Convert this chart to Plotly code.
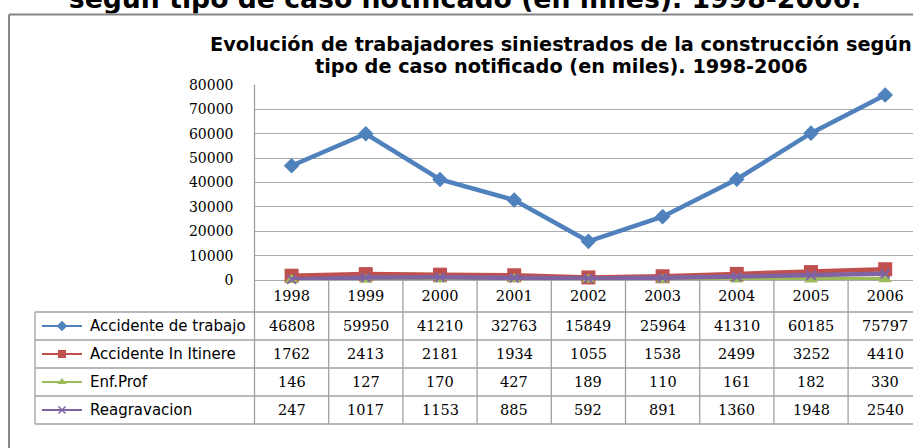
import plotly.graph_objects as go

# ---------------- data ----------------
years = ["1998", "1999", "2000", "2001", "2002", "2003", "2004", "2005", "2006"]
series_names = ["Accidente de trabajo", "Accidente In Itinere", "Enf.Prof", "Reagravacion"]
accidente_trabajo = [46808, 59950, 41210, 32763, 15849, 25964, 41310, 60185, 75797]
accidente_in_itinere = [1762, 2413, 2181, 1934, 1055, 1538, 2499, 3252, 4410]
enf_prof = [146, 127, 170, 427, 189, 110, 161, 182, 330]
reagravacion = [247, 1017, 1153, 885, 592, 891, 1360, 1948, 2540]
y_ticks = [0, 10000, 20000, 30000, 40000, 50000, 60000, 70000, 80000]

top_title = "según tipo de caso notificado (en miles). 1998-2006."
chart_title_1 = "Evolución de trabajadores siniestrados de la construcción según"
chart_title_2 = "tipo de caso notificado (en miles). 1998-2006"

# ---------------- styling ----------------
W, H = 913, 448
colors = ["#4F81BD", "#C0504D", "#9BBB59", "#8064A2"]
symbols = ["diamond", "square", "triangle-up", "x-thin"]
sizes = [12, 14, 12, 9]
leg_sizes = [8, 8, 8, 7]
grid_col = "#aaaaaa"
tbl_col = "#a0a0a0"
SERIF = "DejaVu Serif"
SANS = "DejaVu Sans"

def px(x):
    return x / W

def py(y):
    return 1 - y / H

plot_left = 254.5
y0_pix, ytop_pix = 280.0, 84.8
col_w = 74.2
right_val = 8.5 - (plot_left + 9 * col_w - W) / col_w

row_lines = [312, 340, 368, 396, 424]
row_centers = [326, 354, 382, 410]

all_series = [accidente_trabajo, accidente_in_itinere, enf_prof, reagravacion]

fig = go.Figure()

# main lines
for name, vals, c, s, sz in zip(series_names, all_series, colors, symbols, sizes):
    mk = dict(symbol=s, size=sz, color=c)
    if s == "x-thin":
        mk["line"] = dict(color=c, width=2)
    fig.add_trace(go.Scatter(
        x=years, y=vals, name=name, mode="lines+markers",
        line=dict(color=c, width=4.5), marker=mk, cliponaxis=False,
        xaxis="x", yaxis="y", showlegend=False))

# legend samples inside the table (pixel overlay axes)
for i, (c, s, sz) in enumerate(zip(colors, symbols, leg_sizes)):
    yc = row_centers[i]
    fig.add_trace(go.Scatter(
        x=[42, 82], y=[yc, yc], mode="lines", line=dict(color=c, width=2),
        xaxis="x3", yaxis="y3", showlegend=False, hoverinfo="skip"))
    mk = dict(symbol=s, size=sz, color=c)
    if s == "x-thin":
        mk["line"] = dict(color=c, width=1.5)
    fig.add_trace(go.Scatter(
        x=[62], y=[yc], mode="markers", marker=mk,
        xaxis="x3", yaxis="y3", showlegend=False, hoverinfo="skip"))

# big clipped title behind the chart box
fig.add_trace(go.Scatter(
    x=[465], y=[1.2], mode="text", text=[top_title], textposition="middle center",
    textfont=dict(family=SANS, size=26.7, color="black", weight="bold"),
    xaxis="x3", yaxis="y3", showlegend=False, hoverinfo="skip", cliponaxis=False))

shapes = []
# white box covering lower part of big title
shapes.append(dict(type="rect", xref="paper", yref="paper", x0=0, x1=1,
                   y0=py(28), y1=py(13.5), fillcolor="white", line=dict(width=0), layer="above"))
# chart box border
shapes.append(dict(type="line", xref="paper", yref="paper", x0=px(9), x1=1,
                   y0=py(14.5), y1=py(14.5), line=dict(color="#868686", width=2), layer="above"))
shapes.append(dict(type="line", xref="paper", yref="paper", x0=px(9), x1=px(9),
                   y0=py(14.5), y1=0, line=dict(color="#868686", width=2), layer="above"))
# table horizontal lines
for yl in row_lines:
    shapes.append(dict(type="line", xref="paper", yref="paper", x0=px(35), x1=1,
                       y0=py(yl), y1=py(yl), line=dict(color=tbl_col, width=1.3), layer="above"))
# table left edge
shapes.append(dict(type="line", xref="paper", yref="paper", x0=px(35), x1=px(35),
                   y0=py(312), y1=py(424), line=dict(color=tbl_col, width=1.3), layer="above"))
# plot left edge down through table
shapes.append(dict(type="line", xref="paper", yref="paper", x0=px(plot_left), x1=px(plot_left),
                   y0=py(ytop_pix), y1=py(424), line=dict(color=tbl_col, width=1.3), layer="above"))
# column separators in the header row and table
for k in range(len(years)):
    shapes.append(dict(type="line", xref="x", yref="paper", x0=k + 0.5, x1=k + 0.5,
                       y0=py(y0_pix), y1=py(424), line=dict(color=tbl_col, width=1.3), layer="above"))

annotations = []
annotations.append(dict(text=chart_title_1, x=px(561), y=py(31), xref="paper", yref="paper",
                        xanchor="center", yanchor="top", showarrow=False,
                        font=dict(family=SANS, size=19.3, color="black", weight="bold")))
annotations.append(dict(text=chart_title_2, x=px(561), y=py(53), xref="paper", yref="paper",
                        xanchor="center", yanchor="top", showarrow=False,
                        font=dict(family=SANS, size=19.3, color="black", weight="bold")))
for i, (name, vals) in enumerate(zip(series_names, all_series)):
    yc = row_centers[i]
    annotations.append(dict(text=name, x=px(88), y=py(yc), xref="paper", yref="paper",
                            xanchor="left", yanchor="middle", showarrow=False,
                            font=dict(family=SANS, size=15, color="black")))
    for k, v in enumerate(vals):
        annotations.append(dict(text=str(v), x=k, y=py(yc), xref="x", yref="paper",
                                xanchor="center", yanchor="middle", showarrow=False,
                                font=dict(family=SERIF, size=14.5, color="black")))

fig.update_layout(
    width=W, height=H,
    margin=dict(l=0, r=0, t=0, b=0, pad=0, autoexpand=False),
    paper_bgcolor="white", plot_bgcolor="rgba(0,0,0,0)",
    showlegend=False,
    shapes=shapes, annotations=annotations,
    xaxis=dict(domain=[px(plot_left), 1], range=[-0.5, right_val], anchor="y",
               type="category", showgrid=False, zeroline=False, showline=False,
               ticks="", tickfont=dict(family=SERIF, size=14.5, color="black"),
               ticklabelstandoff=5, fixedrange=True, automargin=False),
    yaxis=dict(domain=[py(y0_pix), py(ytop_pix)], range=[0, 80000], anchor="x",
               tickvals=y_ticks, ticktext=[str(t) for t in y_ticks],
               showgrid=True, gridcolor=grid_col, gridwidth=1.3,
               zeroline=True, zerolinecolor=grid_col, zerolinewidth=1.3,
               showline=False, ticks="", ticklabelstandoff=20, automargin=False,
               tickfont=dict(family=SERIF, size=14, color="black"), fixedrange=True),
    xaxis3=dict(domain=[0, 1], range=[0, W], anchor="y3", visible=False,
                fixedrange=True, automargin=False),
    yaxis3=dict(domain=[0, 1], range=[H, 0], anchor="x3", visible=False,
                fixedrange=True, automargin=False),
)

fig.write_html(
    "out.html",
    config={"displayModeBar": False, "responsive": False},
    post_script="document.body.style.margin='0';document.body.style.overflow='hidden';",
)
